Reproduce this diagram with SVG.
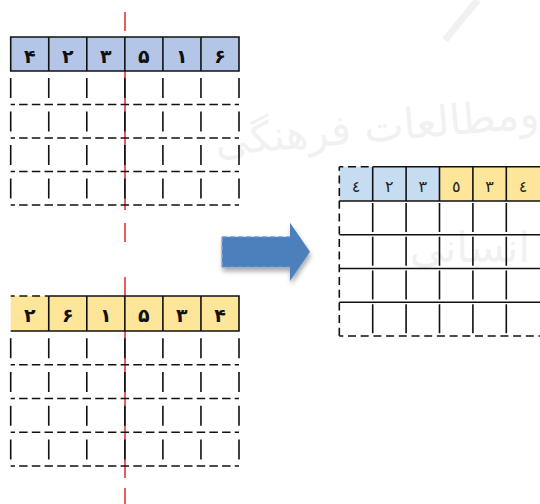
<svg xmlns="http://www.w3.org/2000/svg" width="540" height="504" viewBox="0 0 540 504">
<style>
.bg{fill:#ffffff}
.wm{fill:#f1f1f1;font-family:"DejaVu Sans",sans-serif}
.solid{stroke:#111;stroke-width:1.6;fill:none}
.hdash{stroke:#111;stroke-width:1.6;fill:none;stroke-dasharray:8.5 4.183;stroke-dashoffset:4.25}
.vdash{stroke:#111;stroke-width:1.6;fill:none;stroke-dasharray:20 13.5;stroke-dashoffset:26.5}
.vdash2{stroke:#111;stroke-width:1.6;fill:none;stroke-dasharray:20 13.75;stroke-dashoffset:26.5}
.rv{stroke:#111;stroke-width:1.6;fill:none;stroke-dasharray:29 4.75;stroke-dashoffset:-2}
.rdash{stroke:#111;stroke-width:1.6;fill:none;stroke-dasharray:8 4.7;stroke-dashoffset:4}
.red{stroke:#e8141c;stroke-width:1.4;fill:none}
.dig{font-family:"DejaVu Sans",sans-serif;font-size:19px;font-weight:bold;fill:#111;text-anchor:middle}
.dig2{font-family:"DejaVu Sans",sans-serif;font-size:16px;fill:#222;text-anchor:middle}
.blue1{fill:#b4c6e7}
.blue2{fill:#c6dcf0}
.yel{fill:#fde59a}
</style>
<defs>
<filter id="sh" x="-20%" y="-20%" width="140%" height="160%">
<feGaussianBlur in="SourceAlpha" stdDeviation="2.5"/>
<feOffset dx="1" dy="4" result="b"/>
<feComponentTransfer><feFuncA type="linear" slope="0.35"/></feComponentTransfer>
<feMerge><feMergeNode/><feMergeNode in="SourceGraphic"/></feMerge>
</filter>
</defs>
<rect class="bg" x="0" y="0" width="540" height="504"/>

<g id="watermark">
<path d="M445 40 Q465 15 478 0" stroke="#f1f1f1" stroke-width="7" fill="none"/>
<text class="wm" x="540" y="136" font-size="42" text-anchor="end" transform="rotate(-5 440 130)">ومطالعات فرهنگی</text>
<text class="wm" x="530" y="262" font-size="42" text-anchor="end">انسانی</text>
</g>

<g id="redline">
<path class="red" d="M125 12V31M125 38V210M125 223V242M125 277V478M125 488V504"/>
</g>

<g id="table1">
<rect class="blue1" x="10.7" y="37" width="228.3" height="34"/>
<path class="solid" d="M10.7 37H239V71H10.7ZM48.75 37V71M86.8 37V71M124.85 37V71M162.9 37V71M200.95 37V71"/>
<path class="hdash" d="M10.7 104.5H239M10.7 138H239M10.7 171.5H239M10.7 205H239"/>
<path class="vdash" d="M10.7 71V205M48.75 71V205M86.8 71V205M124.85 71V205M162.9 71V205M200.95 71V205M239 71V205"/>
<text class="dig" x="29.7" y="63">۴</text>
<text class="dig" x="67.8" y="63">۲</text>
<text class="dig" x="105.8" y="63">۳</text>
<text class="dig" x="143.9" y="63">۵</text>
<text class="dig" x="181.9" y="63">۱</text>
<text class="dig" x="220" y="63">۶</text>
</g>

<g id="table2">
<rect class="yel" x="10.7" y="296" width="228.3" height="35"/>
<path class="solid" d="M48.75 296H239V331H10.7M48.75 296V331M86.8 296V331M124.85 296V331M162.9 296V331M200.95 296V331"/>
<path class="rdash" d="M10.7 296H48.75"/>
<path class="hdash" d="M10.7 364.75H239M10.7 398.5H239M10.7 432.25H239M10.7 466H239"/>
<path class="vdash2" d="M10.7 331V466M48.75 331V466M86.8 331V466M124.85 331V466M162.9 331V466M200.95 331V466M239 331V466"/>
<text class="dig" x="29.7" y="322">۲</text>
<text class="dig" x="67.8" y="322">۶</text>
<text class="dig" x="105.8" y="322">۱</text>
<text class="dig" x="143.9" y="322">۵</text>
<text class="dig" x="181.9" y="322">۳</text>
<text class="dig" x="220" y="322">۴</text>
</g>

<g id="arrow">
<path d="M221.7 236.7H290V222.7L310 251.7L290 281V267.3H221.7Z" fill="#4c80bd" filter="url(#sh)"/>
<path d="M222 236.7H290M222 267.3H290M222 237V267" stroke="#8fb0d8" stroke-width="1.2" stroke-dasharray="5 3" fill="none"/>
</g>

<g id="table3">
<rect class="blue2" x="339.3" y="166.7" width="100.2" height="34.3"/>
<rect class="yel" x="439.5" y="166.7" width="100.5" height="34.3"/>
<path class="solid" d="M372.7 166.7H540M339.3 201H540M372.7 166.7V201M406.1 166.7V201M439.5 166.7V201M472.9 166.7V201M506.3 166.7V201"/>
<path class="rdash" d="M339.3 166.7H372.7M339.3 166.7V336M339.3 336H540"/>
<path class="solid" d="M339.3 234.75H540M339.3 268.5H540M339.3 302.25H540"/>
<path class="rv" d="M372.7 201V336M406.1 201V336M439.5 201V336M472.9 201V336M506.3 201V336"/>
<text class="dig2" x="356" y="191.5">٤</text>
<text class="dig2" x="389.4" y="191.5">٢</text>
<text class="dig2" x="422.8" y="191.5">٣</text>
<text class="dig2" x="456.2" y="191.5">٥</text>
<text class="dig2" x="489.6" y="191.5">٣</text>
<text class="dig2" x="523" y="191.5">٤</text>
</g>
</svg>
